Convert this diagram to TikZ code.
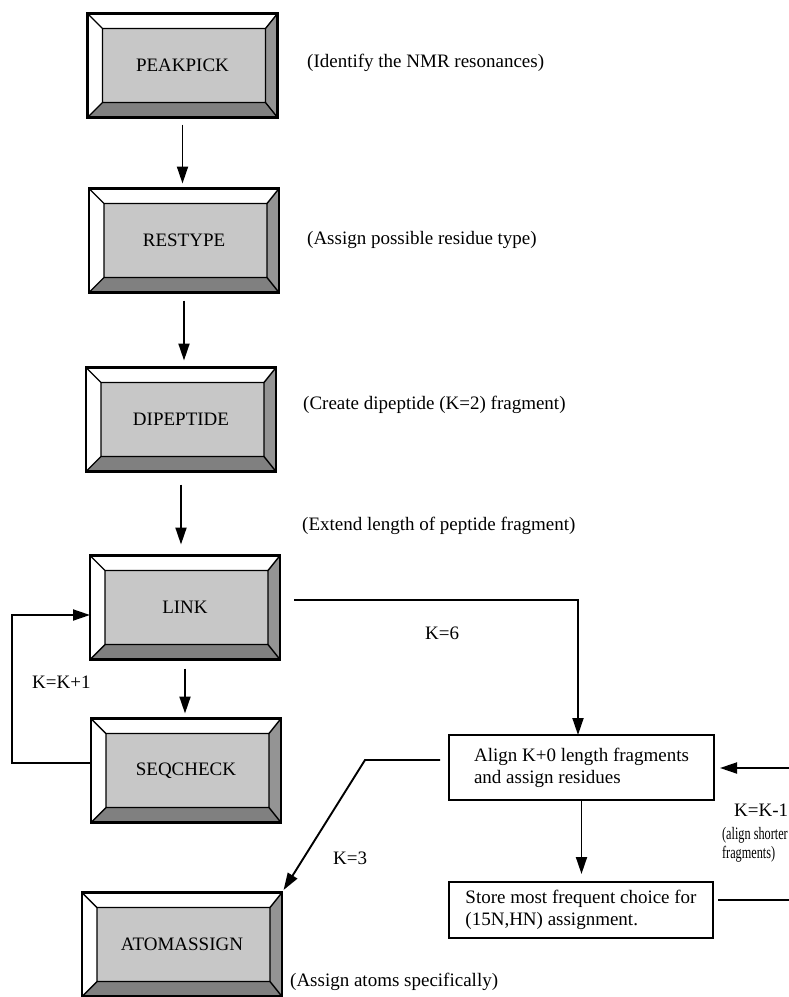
\documentclass[tikz,border=0pt]{standalone}
\usepackage{fontspec}
\setmainfont{Liberation Serif}
\usetikzlibrary{arrows.meta,calc}
\definecolor{facegray}{gray}{0.78}
\definecolor{rightgray}{gray}{0.58}
\definecolor{bottomgray}{gray}{0.50}

\begin{document}
\begin{tikzpicture}[x=1pt,y=-1pt,
  every node/.style={font=\fontsize{19}{22}\selectfont},
  conn/.style={line width=1.9pt},
  arr/.style={conn,-{Triangle[length=17pt,width=11pt]}},
  bevelbox/.style={draw, line width=2.2pt, rectangle,
    minimum width=190pt, minimum height=104pt,
    inner sep=0pt, outer sep=0pt,
    path picture={
      \coordinate (oNW) at (path picture bounding box.north west);
      \coordinate (oNE) at (path picture bounding box.north east);
      \coordinate (oSW) at (path picture bounding box.south west);
      \coordinate (oSE) at (path picture bounding box.south east);
      \coordinate (iNW) at ([xshift=15pt,yshift=-15pt]oNW);
      \coordinate (iNE) at ([xshift=-12pt,yshift=-15pt]oNE);
      \coordinate (iSW) at ([xshift=15pt,yshift=15pt]oSW);
      \coordinate (iSE) at ([xshift=-12pt,yshift=15pt]oSE);
      \fill[white] (oNW) rectangle (oSE);
      \fill[facegray] (iNW) rectangle (iSE);
      \fill[rightgray] (oNE) -- (oSE) -- (iSE) -- (iNE) -- cycle;
      \fill[bottomgray] (oSW) -- (oSE) -- (iSE) -- (iSW) -- cycle;
      \draw[line width=1.4pt] (iNW) rectangle (iSE)
        (oNW) -- (iNW) (oNE) -- (iNE) (oSW) -- (iSW) (oSE) -- (iSE);
    }},
  plainbox/.style={draw, line width=1.9pt, rectangle, align=left,
    inner sep=0pt, outer sep=0pt},
  note/.style={anchor=west, inner sep=0pt}
]
\useasboundingbox (0,0) rectangle (789,997);

% program modules
\node[bevelbox] (peakpick) at (182.5,65.5) {PEAKPICK};
\node[bevelbox] (restype) at (184,240.5) {RESTYPE};
\node[bevelbox] (dipeptide) at (181,419.5) {DIPEPTIDE};
\node[bevelbox] (link) at (185,607.5) {LINK};
\node[bevelbox] (seqcheck) at (186,770.5) {SEQCHECK};
\node[bevelbox, minimum width=200pt] (atomassign) at (182,944.5) {ATOMASSIGN};

% alignment steps
\node[plainbox, minimum width=265pt, minimum height=65pt] (align) at (581.5,767.5)
  {Align K+0 length fragments\\and assign residues};
\node[plainbox, minimum width=264pt, minimum height=56pt] (store) at (581,910)
  {Store most frequent choice for\\(15N,HN) assignment.};

% descriptions
\node[note] (n1) at (307,63) {(Identify the NMR resonances)};
\node[note] (n2) at (307,240) {(Assign possible residue type)};
\node[note] (n3) at (303,405) {(Create dipeptide (K=2) fragment)};
\node[note] (n4) at (302,526) {(Extend length of peptide fragment)};
\node[note] (n5) at (290,982) {(Assign atoms specifically)};

% branch labels
\node[note] (k6) at (425,633) {K=6};
\node[note] (kp1) at (32,682) {K=K+1};
\node[note] (k3) at (333,858) {K=3};
\node[note] (km1) at (734,810) {K=K-1};
\node[note, align=left, xscale=0.70, transform shape,
      font=\fontsize{17.5}{19.5}\selectfont] (shorter) at (722,845)
  {(align shorter\\fragments)};

% main flow
\draw[arr, shorten <=7pt, shorten >=5pt] (peakpick.south) -- (peakpick.south |- restype.north);
\draw[arr, shorten <=8pt, shorten >=7pt] (restype.south) -- (restype.south |- dipeptide.north);
\draw[arr, shorten <=13pt, shorten >=11pt] (dipeptide.south) -- (dipeptide.south |- link.north);
\draw[arr, shorten <=9pt, shorten >=5pt] (link.south) -- (link.south |- seqcheck.north);

% K=K+1 loop
\coordinate (lpA) at (12,763);
\coordinate (lpB) at (12,615);
\draw[arr] (seqcheck.west |- lpA) -- (lpA) -- (lpB) -- (link.west |- lpB);

% K=6 branch
\coordinate (k6c) at (578,600);
\draw[arr] ($(link.east |- k6c)+(14,0)$) -- (k6c) -- (k6c |- align.north);

% alignment loop
\draw[arr, shorten >=8pt] (align.south) -- (align.south |- store.north);
\coordinate (edgeS) at (789,900);
\draw[conn] ($(store.east |- edgeS)+(5,0)$) -- (edgeS);
\coordinate (edgeA) at (789,768);
\draw[arr, shorten >=6pt] (edgeA) -- (align.east |- edgeA);

% K=3 branch
\coordinate (k3c) at (365,760);
\draw[arr, shorten >=3pt] ($(align.west |- k3c)+(-9,0)$) -- (k3c) -- (atomassign.north east);
\end{tikzpicture}
\end{document}
